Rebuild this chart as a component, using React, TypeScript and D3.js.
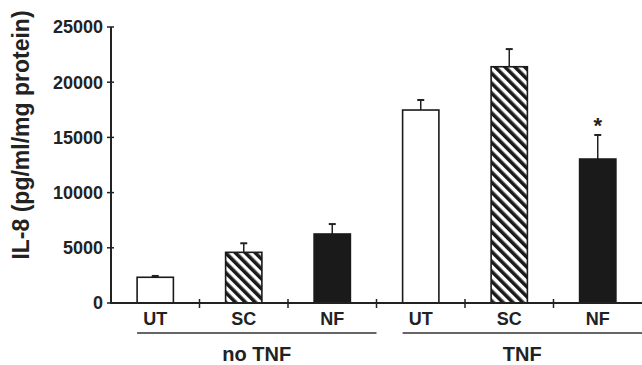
import React from "react";
import * as d3 from "d3";

// IL-8 levels by treatment, with and without TNF
const groups = ["no TNF", "TNF"];
const treatments = ["UT", "SC", "NF"];
const means = [2330, 4590, 6250, 17480, 21400, 13040];
const errors = [120, 820, 900, 910, 1600, 2180];
const yTicks = [0, 5000, 10000, 15000, 20000, 25000];
const starred = [false, false, false, false, false, true];

const W = 642;
const H = 365;
const margin = { top: 27, right: 0, bottom: 62, left: 111 };
const font = "'Liberation Sans', Arial, Helvetica, sans-serif";

const App = () => {
  const keys = groups.flatMap((g) => treatments.map((t) => `${g}|${t}`));
  const x = d3.scaleBand()
    .domain(keys)
    .range([margin.left, W - margin.right])
    .paddingInner(0.59)
    .paddingOuter(0.295);
  const y = d3.scaleLinear()
    .domain([0, 25000])
    .range([H - margin.bottom, margin.top]);
  const step = x.step();
  const y0 = y(0);

  const fillFor = (t) => (t === "UT" ? "#fff" : t === "SC" ? "url(#hatch)" : "#1a1a1a");

  return (
    <svg width={W} height={H} style={{ position: "absolute", left: 0, top: 0 }} fontFamily={font} fontWeight="bold">
      <defs>
        <pattern id="hatch" patternUnits="userSpaceOnUse" width={7} height={7} patternTransform="rotate(-45)">
          <rect width={7} height={7} fill="#fff" />
          <line x1={1.8} y1={0} x2={1.8} y2={7} stroke="#1a1a1a" strokeWidth={3.6} />
        </pattern>
      </defs>

      {/* y axis */}
      <line x1={margin.left} x2={margin.left} y1={y(25000)} y2={y0 + 1} stroke="#222" strokeWidth={2} />
      {yTicks.map((t) => (
        <g key={t}>
          <line x1={margin.left - 4} x2={margin.left + 3} y1={y(t)} y2={y(t)} stroke="#222" strokeWidth={1.5} />
          <text x={margin.left - 8} y={y(t)} dy="0.36em" textAnchor="end" fontSize={18} fill="#222">{t}</text>
        </g>
      ))}
      <text transform={`translate(29,${(y(25000) + y0) / 2 - 30}) rotate(-90)`} textAnchor="middle" fontSize={23} fill="#222">
        IL-8 (pg/ml/mg protein)
      </text>

      {/* bars */}
      {keys.map((k, i) => {
        const t = k.split("|")[1];
        const bx = x(k);
        const bw = x.bandwidth();
        const cx = bx + bw / 2;
        const top = y(means[i]);
        const errTop = y(means[i] + errors[i]);
        return (
          <g key={k}>
            <line x1={cx} x2={cx} y1={top} y2={errTop} stroke="#222" strokeWidth={1.5} />
            <line x1={cx - 3.5} x2={cx + 3.5} y1={errTop} y2={errTop} stroke="#222" strokeWidth={2} />
            <rect x={bx} y={top} width={bw} height={y0 - top} fill={fillFor(t)} stroke="#1a1a1a" strokeWidth={1.6} />
            {starred[i] && (
              <text x={cx} y={errTop - 2} textAnchor="middle" fontSize={22} fill="#222">*</text>
            )}
            <text x={cx} y={y0 + 22} textAnchor="middle" fontSize={18} fill="#222">{t}</text>
          </g>
        );
      })}

      {/* x axis */}
      <line x1={margin.left} x2={W} y1={y0} y2={y0} stroke="#222" strokeWidth={2} />
      {keys.slice(1).map((k) => (
        <line key={k} x1={x(k) - (step - x.bandwidth()) / 2} x2={x(k) - (step - x.bandwidth()) / 2} y1={y0 - 4} y2={y0 + 5} stroke="#222" strokeWidth={1.5} />
      ))}

      {/* group labels */}
      {groups.map((g, gi) => {
        const first = `${g}|${treatments[0]}`;
        const last = `${g}|${treatments[treatments.length - 1]}`;
        const x1 = x(first);
        const x2 = gi === groups.length - 1 ? W : x(last) + x.bandwidth() + (step - x.bandwidth()) / 2;
        return (
          <g key={g}>
            <line x1={x1} x2={x2} y1={333} y2={333} stroke="#333" strokeWidth={1.3} />
            <text x={(x1 + x2) / 2} y={361} textAnchor="middle" fontSize={20} fill="#222">{g}</text>
          </g>
        );
      })}
    </svg>
  );
};

export default App;
